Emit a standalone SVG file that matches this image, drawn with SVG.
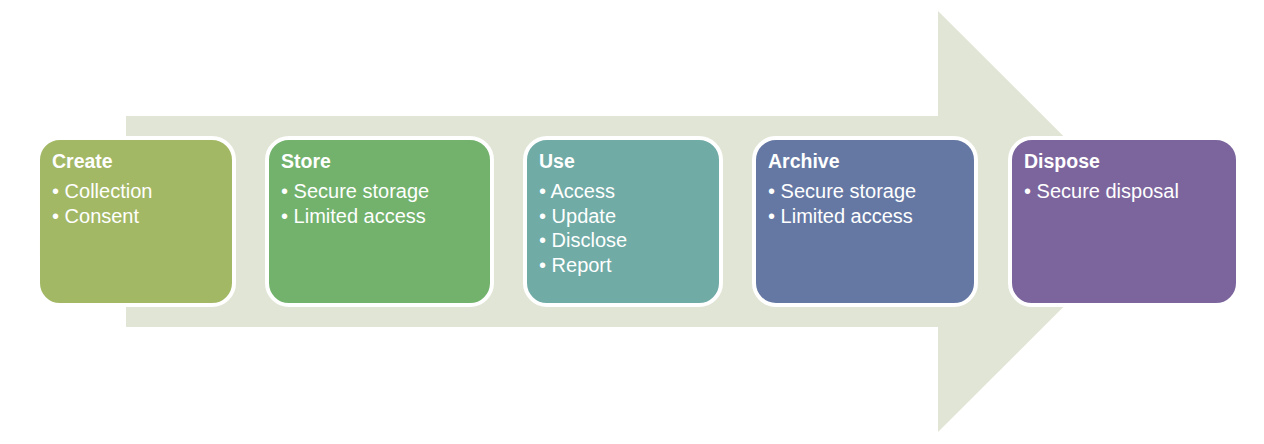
<svg xmlns="http://www.w3.org/2000/svg" width="1264" height="444" viewBox="0 0 1264 444">
<style>
.box{stroke:#ffffff;stroke-width:4}
.t{font-family:"Liberation Sans",Arial,sans-serif;fill:#ffffff}
.h{font-size:19.5px;font-weight:bold}
.b{font-size:20px}
</style>
<rect width="1264" height="444" fill="#ffffff"/>
<g id="arrow">
<polygon points="126,116 938,116 938,11 1149,221.5 938,432 938,327 126,327" fill="#E1E5D5"/>
</g>
<g id="connectors"></g>
<g id="create">
<rect class="box" x="38" y="138" width="196" height="167" rx="22" fill="#A3B865"/>
<text class="t h" x="52" y="167.5">Create</text>
<text class="t b" x="52" y="197.5">• Collection</text>
<text class="t b" x="52" y="222.5">• Consent</text>
</g>
<g id="store">
<rect class="box" x="267" y="138" width="225" height="167" rx="22" fill="#72B26C"/>
<text class="t h" x="281" y="167.5">Store</text>
<text class="t b" x="281" y="197.5">• Secure storage</text>
<text class="t b" x="281" y="222.5">• Limited access</text>
</g>
<g id="use">
<rect class="box" x="525" y="138" width="196" height="167" rx="22" fill="#70ABA6"/>
<text class="t h" x="539" y="167.5">Use</text>
<text class="t b" x="539" y="197.5">• Access</text>
<text class="t b" x="539" y="222.5">• Update</text>
<text class="t b" x="539" y="247.2">• Disclose</text>
<text class="t b" x="539" y="272">• Report</text>
</g>
<g id="archive">
<rect class="box" x="754" y="138" width="222" height="167" rx="22" fill="#6578A4"/>
<text class="t h" x="768" y="167.5">Archive</text>
<text class="t b" x="768" y="197.5">• Secure storage</text>
<text class="t b" x="768" y="222.5">• Limited access</text>
</g>
<g id="dispose">
<rect class="box" x="1010" y="138" width="228" height="167" rx="22" fill="#7C659D"/>
<text class="t h" x="1024" y="167.5">Dispose</text>
<text class="t b" x="1024" y="197.5">• Secure disposal</text>
</g>
</svg>
